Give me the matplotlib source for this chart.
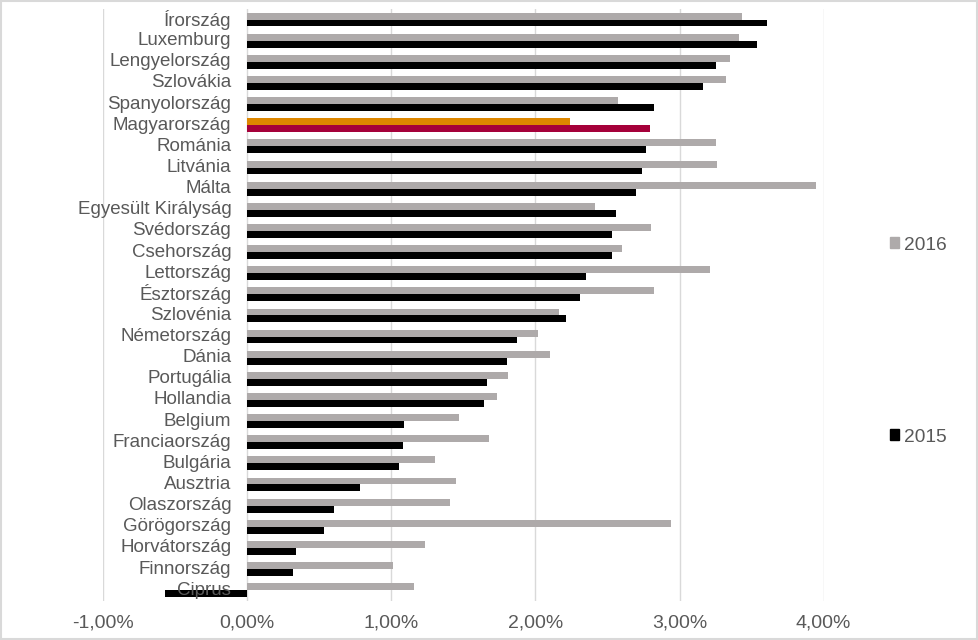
import matplotlib.pyplot as plt
import matplotlib.transforms as mtransforms
from matplotlib.patches import Rectangle, Patch
import numpy as np

plt.rcParams['font.family'] = ['Liberation Sans', 'DejaVu Sans']

countries = ['Írország', 'Luxemburg', 'Lengyelország', 'Szlovákia', 'Spanyolország',
             'Magyarország', 'Románia', 'Litvánia', 'Málta', 'Egyesült Királyság',
             'Svédország', 'Csehország', 'Lettország', 'Észtország', 'Szlovénia',
             'Németország', 'Dánia', 'Portugália', 'Hollandia', 'Belgium',
             'Franciaország', 'Bulgária', 'Ausztria', 'Olaszország', 'Görögország',
             'Horvátország', 'Finnország', 'Ciprus']
v2016 = [3.43, 3.415, 3.35, 3.32, 2.57, 2.24, 3.255, 3.26, 3.95, 2.415,
         2.80, 2.60, 3.21, 2.82, 2.165, 2.02, 2.10, 1.81, 1.73, 1.47,
         1.68, 1.30, 1.45, 1.41, 2.94, 1.23, 1.01, 1.16]
v2015 = [3.61, 3.54, 3.255, 3.16, 2.82, 2.795, 2.77, 2.74, 2.70, 2.56,
         2.53, 2.53, 2.35, 2.31, 2.21, 1.87, 1.80, 1.66, 1.645, 1.09,
         1.08, 1.05, 0.78, 0.60, 0.53, 0.34, 0.32, -0.57]
xticks = [-1, 0, 1, 2, 3, 4]
highlight = 'Magyarország'

gray, black = '#AEAAAA', '#000000'
c16 = ['#DE8700' if c == highlight else gray for c in countries]
c15 = ['#A5003A' if c == highlight else black for c in countries]
txt = '#595959'

fig = plt.figure(figsize=(9.79, 6.4), dpi=100)
ax = fig.add_axes([0.1055, 0.0614, 0.7358, 0.9245])

y = np.arange(len(countries))
h = 0.327
ax.barh(y - h / 2, v2016, height=h, color=c16, zorder=2)
ax.barh(y + h / 2, v2015, height=h, color=c15, zorder=2)

ax.set_xlim(-1, 4)
ax.set_ylim(len(countries) - 0.5, -0.5)
ax.set_xticks(xticks)
ax.set_xticklabels([('%.2f%%' % t).replace('.', ',') for t in xticks])
ax.set_yticks([])
ax.tick_params(axis='x', length=0, pad=10, labelsize=14, labelcolor=txt)
ax.grid(axis='x', color='#D9D9D9', linewidth=1, zorder=0)
for s in ax.spines.values():
    s.set_visible(False)

# category labels sit next to the zero line
off = mtransforms.offset_copy(ax.transData, fig=fig, x=-16, y=0, units='dots')
for i, name in enumerate(countries):
    ax.text(0, i, name, transform=off, ha='right', va='center',
            fontsize=13.5, color=txt, zorder=5)

for lab, col, ypix in [('2016', gray, 245), ('2015', black, 437)]:
    fig.legend(handles=[Patch(color=col, label=lab)], loc='center left',
               bbox_to_anchor=(0.909, 1 - ypix / 640), frameon=False,
               fontsize=13.8, labelcolor=txt, handlelength=0.5, handleheight=0.5,
               handletextpad=0.25, borderpad=0, borderaxespad=0)

fig.patches.append(Rectangle((0.001, 0.001), 0.997, 0.997, transform=fig.transFigure,
                             fill=False, edgecolor='#D9D9D9', linewidth=1.5))

fig.savefig('out.png', dpi=100)
